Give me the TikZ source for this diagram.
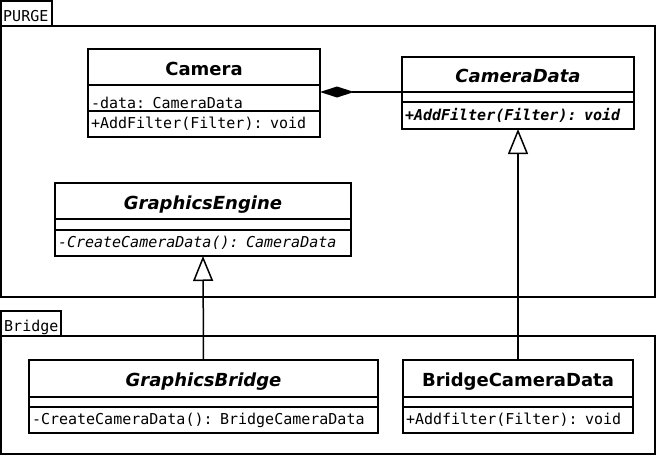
\documentclass[tikz,border=0pt]{standalone}
\usepackage{fontspec}
\setmainfont{DejaVu Sans}
\setmonofont{DejaVu Sans Mono}
\usetikzlibrary{arrows.meta}
\begin{document}
\begin{tikzpicture}[x=1pt,y=-1pt,
  frame/.style={draw, line width=1.5pt},
  cname/.style={draw, line width=1.5pt, inner sep=0pt, outer sep=0pt, anchor=north west, align=center, text height=18pt, text depth=2pt, font=\fontsize{18}{21}\selectfont\bfseries},
  cnamei/.style={cname, font=\fontsize{18}{21}\selectfont\bfseries\itshape},
  cmem/.style={draw, line width=1.5pt, inner xsep=3pt, inner ysep=0pt, outer sep=0pt, anchor=north west, align=left, font=\fontsize{15}{18}\selectfont\ttfamily},
  tablabel/.style={anchor=base west, inner sep=0pt, font=\fontsize{15}{18}\selectfont\ttfamily},
  inh/.style={-{Triangle[open, length=25pt, width=20pt]}, line width=1.5pt},
  comp/.style={-{Diamond[length=34pt, width=11pt]}, line width=1.5pt},
]
\useasboundingbox (0,0) rectangle (657,455);
% packages
\draw[frame] (1,26) rectangle (655,297);
\draw[frame] (1,1) rectangle (52,26);
\node[tablabel] (purgelbl) at (3,21) {PURGE};
\draw[frame] (1,336) rectangle (655,454);
\draw[frame] (1,311) rectangle (61,336);
\node[tablabel] (bridgelbl) at (4,331) {Bridge};
% Camera
\node[cname, minimum width=232pt, minimum height=36pt] (camname) at (88,49) {Camera};
\node[cmem, text width=226pt, minimum height=26pt, text height=22pt, text depth=1pt] (camattr) at (camname.south west) {-data: CameraData};
\node[cmem, text width=226pt, minimum height=26pt] (cammeth) at (camattr.south west) {+AddFilter(Filter): void};
% CameraData
\node[cnamei, minimum width=232pt, minimum height=35pt] (cdname) at (402,57) {CameraData};
\node[cmem, text width=226pt, minimum height=10pt] (cdattr) at (cdname.south west) {};
\node[cmem, text width=226pt, minimum height=27pt, font=\fontsize{15}{18}\selectfont\ttfamily\bfseries\itshape] (cdmeth) at (cdattr.south west) {+AddFilter(Filter): void};
% GraphicsEngine
\node[cnamei, minimum width=296pt, minimum height=36pt] (gename) at (55,183) {GraphicsEngine};
\node[cmem, text width=290pt, minimum height=11pt] (geattr) at (gename.south west) {};
\node[cmem, text width=290pt, minimum height=26pt, font=\fontsize{15}{18}\selectfont\ttfamily\itshape] (gemeth) at (geattr.south west) {-CreateCameraData(): CameraData};
% GraphicsBridge
\node[cnamei, minimum width=349pt, minimum height=37pt] (gbname) at (29,360) {GraphicsBridge};
\node[cmem, text width=343pt, minimum height=10pt] (gbattr) at (gbname.south west) {};
\node[cmem, text width=343pt, minimum height=26pt] (gbmeth) at (gbattr.south west) {-CreateCameraData(): BridgeCameraData};
% BridgeCameraData
\node[cname, minimum width=230pt, minimum height=37pt] (bcdname) at (403,360) {BridgeCameraData};
\node[cmem, text width=224pt, minimum height=10pt] (bcdattr) at (bcdname.south west) {};
\node[cmem, text width=224pt, minimum height=26pt] (bcdmeth) at (bcdattr.south west) {+Addfilter(Filter): void};
% connectors
\draw[comp] (cdname.south west) -- (camattr.east |- cdname.south west);
\draw[inh] (gbname.north) -- (gemeth.south);
\draw[inh] (bcdname.north) -- (cdmeth.south);
\end{tikzpicture}
\end{document}
